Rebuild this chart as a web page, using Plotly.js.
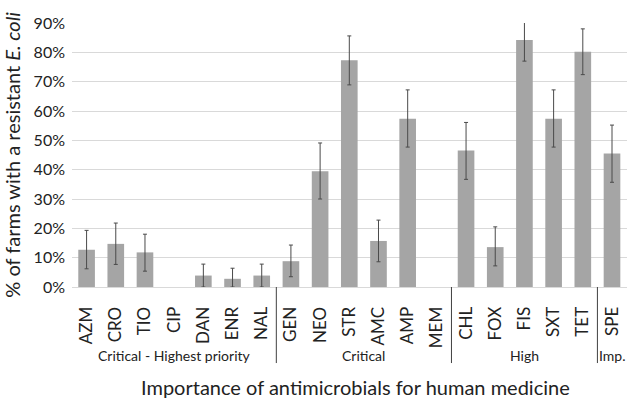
<!DOCTYPE html>
<html>
<head>
<meta charset="utf-8">
<script src="https://cdn.plot.ly/plotly-3.0.1.min.js"></script>
<style>html,body{margin:0;padding:0;background:#fff;}#chart{width:630px;height:401px;}</style>
</head>
<body>
<div id="chart"></div>
<script>
// Data
const categories = ['AZM','CRO','TIO','CIP','DAN','ENR','NAL','GEN','NEO','STR','AMC','AMP','MEM','CHL','FOX','FIS','SXT','TET','SPE'];
const resistantPct = [12.7,14.7,11.8,0,3.9,2.8,3.9,8.8,39.5,77.3,15.7,57.4,0,46.5,13.6,84.2,57.4,80.2,45.5];
const errorUpper  = [19.3,21.8,18.0,null,7.8,6.4,7.8,14.3,49.1,85.6,22.8,67.2,null,56.1,20.5,91.3,67.2,88.0,55.2];
const errorLower  = [6.2,7.7,5.4,null,0,0,0,3.5,30.0,68.9,8.6,47.7,null,36.7,7.2,77.0,47.7,72.4,35.7];
const groups = ['Critical - Highest priority','Critical','High','Imp.'];
const groupSizes = [7,6,5,1];
const yTicks = [0,10,20,30,40,50,60,70,80,90];

const plus = resistantPct.map((v,i)=> errorUpper[i]==null ? NaN : errorUpper[i]-v);
const minus = resistantPct.map((v,i)=> errorLower[i]==null ? NaN : v-errorLower[i]);

const FONT = 'Lato, "Open Sans", sans-serif';
const trace = {
  type:'bar', x:categories, y:resistantPct,
  marker:{color:'#a5a5a5'},
  cliponaxis:false,
  error_y:{type:'data', symmetric:false, array:plus, arrayminus:minus,
           color:'#4a4a4a', thickness:1, width:2},
  hoverinfo:'x+y'
};

const shapes = [];
const annotations = [];
let start = 0;
groups.forEach((g,gi)=>{
  const end = start + groupSizes[gi];
  if (gi < groups.length-1) {
    shapes.push({type:'line', xref:'x', yref:'paper', x0:end-0.5, x1:end-0.5, y0:0, y1:-0.288,
                 line:{color:'#404040', width:1}});
  }
  annotations.push({text:g, xref:'x', yref:'paper', x:(start+end-1)/2, y:-0.258,
                    xanchor:'center', yanchor:'middle', showarrow:false,
                    font:{family:FONT, size:14, color:'#222'}});
  start = end;
});
annotations.push({text:'Importance of antimicrobials for human medicine', xref:'paper', yref:'paper',
                  x:0.51, y:-0.379, xanchor:'center', yanchor:'middle', showarrow:false,
                  font:{family:FONT, size:20, color:'#222'}});

const layout = {
  width:630, height:401,
  margin:{l:72, r:3, t:23, b:114},
  paper_bgcolor:'#fff', plot_bgcolor:'#fff',
  bargap:0.43,
  showlegend:false,
  font:{family:FONT, color:'#222'},
  xaxis:{
    type:'category', tickangle:-90, tickfont:{size:17, color:'#222', family:FONT},
    showgrid:false, showline:true, linecolor:'#d9d9d9', linewidth:1,
    ticks:'', ticklabelstandoff:12
  },
  yaxis:{
    range:[0,90], tickvals:yTicks, ticktext:yTicks.map(t=>t+'%'),
    tickfont:{size:16, color:'#222', family:FONT},
    showgrid:true, gridcolor:'#d9d9d9', gridwidth:1, zeroline:false, showline:false,
    ticklabelstandoff:6,
    title:{text:'% of farms with a resistant <i>E. coli</i>', font:{size:20, color:'#222', family:FONT}, standoff:7}
  },
  shapes:shapes,
  annotations:annotations
};

Plotly.newPlot('chart',[trace],layout,{displayModeBar:false, staticPlot:true});
</script>
</body>
</html>
